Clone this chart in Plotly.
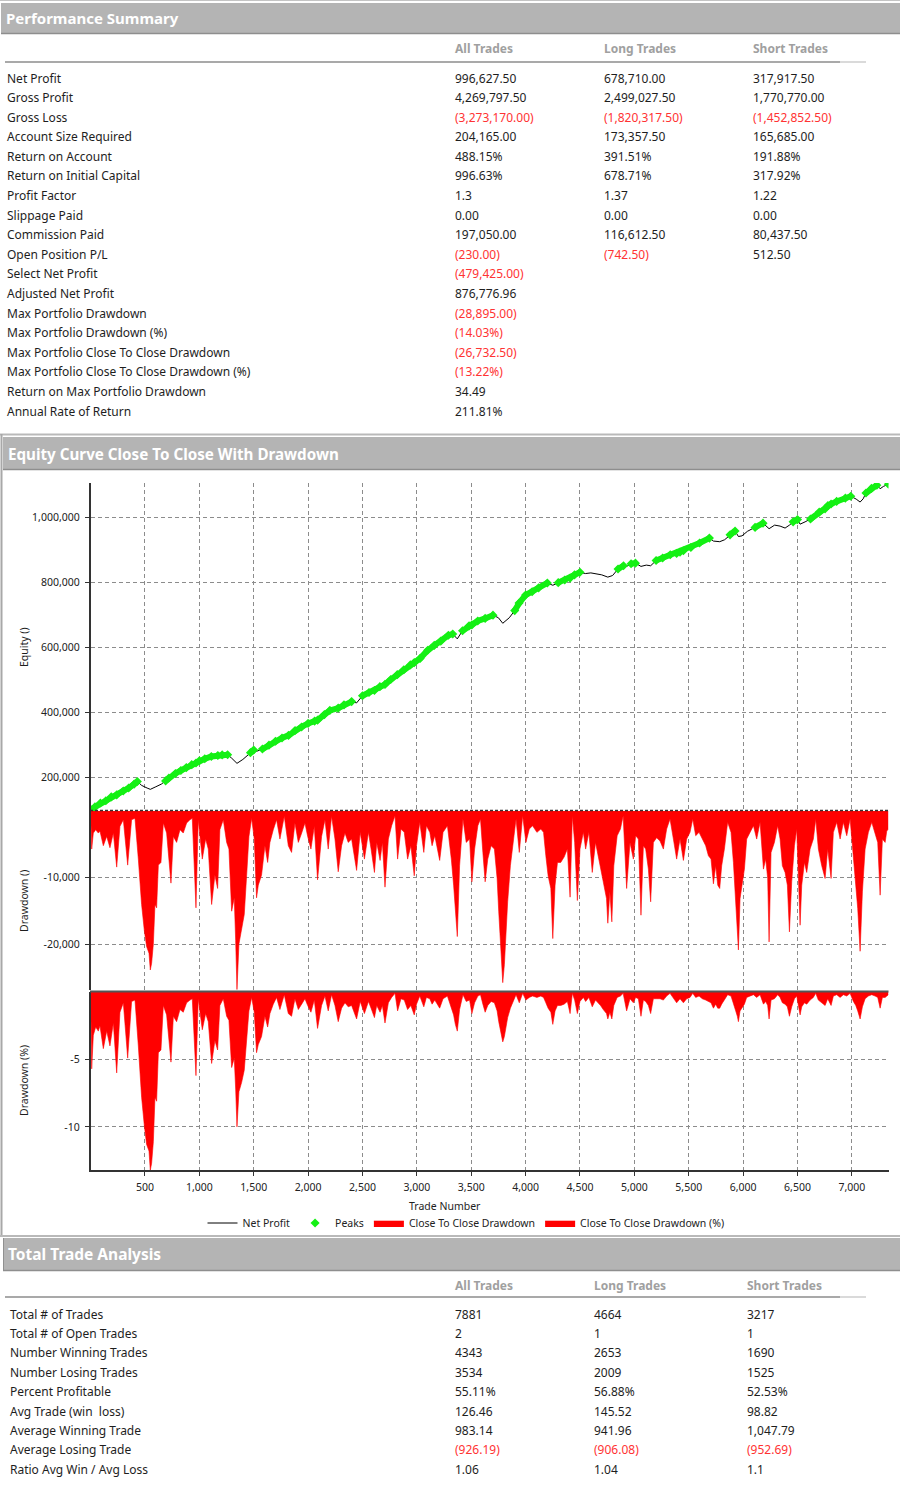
import numpy as np
import plotly.graph_objects as go

# ------------------------------------------------------------------ data
perf_labels = ["Net Profit", "Gross Profit", "Gross Loss", "Account Size Required",
               "Return on Account", "Return on Initial Capital", "Profit Factor",
               "Slippage Paid", "Commission Paid", "Open Position P/L",
               "Select Net Profit", "Adjusted Net Profit", "Max Portfolio Drawdown",
               "Max Portfolio Drawdown (%)", "Max Portfolio Close To Close Drawdown",
               "Max Portfolio Close To Close Drawdown (%)",
               "Return on Max Portfolio Drawdown", "Annual Rate of Return"]
perf_all = ["996,627.50", "4,269,797.50", "(3,273,170.00)", "204,165.00", "488.15%",
            "996.63%", "1.3", "0.00", "197,050.00", "(230.00)", "(479,425.00)",
            "876,776.96", "(28,895.00)", "(14.03%)", "(26,732.50)", "(13.22%)",
            "34.49", "211.81%"]
perf_long = ["678,710.00", "2,499,027.50", "(1,820,317.50)", "173,357.50", "391.51%",
             "678.71%", "1.37", "0.00", "116,612.50", "(742.50)", "", "", "", "", "",
             "", "", ""]
perf_short = ["317,917.50", "1,770,770.00", "(1,452,852.50)", "165,685.00", "191.88%",
              "317.92%", "1.22", "0.00", "80,437.50", "512.50", "", "", "", "", "",
              "", "", ""]
col_headers = ["All Trades", "Long Trades", "Short Trades"]

trade_labels = ["Total # of Trades", "Total # of Open Trades", "Number Winning Trades",
                "Number Losing Trades", "Percent Profitable", "Avg Trade (win\u00a0 loss)",
                "Average Winning Trade", "Average Losing Trade", "Ratio Avg Win / Avg Loss"]
trade_all = ["7881", "2", "4343", "3534", "55.11%", "126.46", "983.14", "(926.19)", "1.06"]
trade_long = ["4664", "1", "2653", "2009", "56.88%", "145.52", "941.96", "(906.08)", "1.04"]
trade_short = ["3217", "1", "1690", "1525", "52.53%", "98.82", "1,047.79", "(952.69)", "1.1"]

section_titles = ["Performance Summary", "Equity Curve Close To Close With Drawdown",
                  "Total Trade Analysis"]

# equity curve (trade number, equity in thousands)
eq_trades = [0, 40, 90, 140, 190, 240, 300, 350, 400, 430, 470, 520, 549, 600, 650, 690,
             720, 780, 830, 880, 930, 969, 1000, 1050, 1110, 1170, 1210, 1260, 1297,
             1346, 1400, 1440, 1470, 1500, 1526, 1580, 1640, 1700, 1760, 1820, 1880, 1940,
             2000, 2060, 2087, 2150, 2200, 2277, 2330, 2400, 2446, 2500, 2560, 2610, 2660,
             2707, 2760, 2820, 2880, 2940, 2976, 3030, 3100, 3160, 3220, 3290, 3330, 3372,
             3420, 3480, 3506, 3560, 3628, 3700, 3750, 3790, 3850, 3900, 3940, 4000, 4060,
             4120, 4200, 4250, 4300, 4360, 4409, 4450, 4500, 4550, 4600, 4650, 4700, 4756,
             4800, 4850, 4900, 4929, 4970, 5010, 5061, 5110, 5150, 5200, 5260, 5330, 5389,
             5420, 5451, 5520, 5600, 5690, 5727, 5785, 5830, 5880, 5926, 5957, 5990, 6040,
             6110, 6183, 6239, 6290, 6340, 6386, 6426, 6460, 6500, 6524, 6570, 6620, 6700,
             6754, 6780, 6809, 6860, 6940, 6990, 7040, 7076, 7104, 7130, 7180, 7230, 7260,
             7290, 7336]
eq_k = [100, 108, 120, 127, 139, 145, 157, 166, 178, 186, 174, 166, 162, 170, 178, 188,
        197, 211, 220, 229, 238, 243, 250, 256, 263, 266, 268, 268.5, 258,
        242, 254, 266, 275, 283, 279, 286, 298, 310, 320, 328, 343, 354,
        365, 372, 375, 392, 405, 412, 422, 432, 428, 450, 460, 466, 478,
        485, 500, 515, 530, 545, 552, 565, 590, 605, 618, 636, 640, 625,
        650, 665, 668, 680, 688, 698, 690, 673, 690, 712, 735, 760, 770,
        782, 797, 790, 798, 806, 812, 822, 830, 826, 828, 824, 822, 815,
        820, 840, 850, 848, 856, 858, 848, 852, 850, 866, 874, 884, 888,
        892, 896, 906, 920, 935, 926, 924, 930, 945, 957, 940, 942, 956,
        968, 981, 964, 975, 972, 966, 975, 985, 992, 978, 985, 994, 1015,
        1025, 1035, 1040, 1048, 1058, 1064, 1055, 1046, 1056, 1074, 1088, 1098, 1087,
        1094, 1101]

# close-to-close drawdown (trade number, drawdown in thousands, drawdown %)
dd_trades = [0, 10, 25, 47, 71, 86, 117, 148, 178, 209, 240, 270, 301, 341, 377, 408, 439,
             469, 494, 515, 537, 549, 561, 577, 592, 607, 623, 647, 669, 699, 739, 761, 791,
             822, 852, 883, 914, 935, 969, 990, 1027, 1058, 1082, 1113, 1143, 1168, 1189,
             1220, 1251, 1272, 1297, 1321, 1334, 1346, 1364, 1389, 1413, 1435, 1456, 1481,
             1505, 1526, 1542, 1572, 1603, 1628, 1649, 1680, 1710, 1741, 1781, 1818, 1848,
             1879, 1910, 1941, 1971, 1996, 2026, 2057, 2087, 2124, 2155, 2185, 2216, 2247,
             2277, 2308, 2339, 2369, 2400, 2446,
             2479, 2518, 2555, 2579, 2610, 2631, 2662, 2683, 2707, 2738, 2768, 2799, 2823,
             2854, 2884, 2915, 2945, 2976, 2997, 3027, 3064, 3088, 3119, 3140, 3165, 3210,
             3241, 3281, 3317, 3338, 3354, 3372, 3393, 3424, 3454, 3485, 3506, 3531, 3561,
             3585, 3607, 3628, 3652, 3683, 3713, 3738, 3753, 3774, 3790, 3805, 3820, 3835,
             3860, 3890, 3912, 3942, 3973, 4003, 4034, 4064, 4104, 4140, 4165, 4186, 4207,
             4232, 4250, 4271, 4293, 4323, 4354, 4384, 4409, 4430, 4451, 4476, 4500, 4531,
             4552, 4582, 4613, 4643, 4689, 4714, 4744, 4756, 4775, 4793, 4811, 4842, 4872,
             4897,
             4929, 4960, 4991, 5012, 5037, 5061, 5083, 5104, 5129, 5150, 5175, 5205, 5236,
             5267, 5297, 5328, 5359, 5389, 5420, 5451, 5481, 5512, 5537, 5564, 5595, 5625,
             5656, 5681, 5705, 5727, 5748, 5767, 5785, 5803, 5828, 5858, 5889, 5911, 5932,
             5947, 5957, 5972, 5987, 6012, 6033, 6064, 6095, 6125, 6156, 6187, 6208, 6226,
             6239, 6257, 6288, 6318, 6340, 6361, 6386, 6407, 6426, 6447, 6472, 6493, 6508,
             6524, 6539, 6564, 6585, 6616, 6646, 6668, 6692, 6723, 6754, 6778, 6809, 6830,
             6861, 6892, 6922, 6953, 6984, 7014, 7036, 7054, 7076, 7097, 7122, 7152, 7183,
             7214, 7238, 7260, 7281, 7306, 7321, 7336]
dd_k = [0, -5.7, -3.3, -2.8, -3.3, -3.0, -5.2, -3.8, -5.5, -3.3, -8.4, -2.3, -1.3, -8.1,
        -1.3, -1.1, -7.2, -14.0, -17.9, -20.3, -21.3, -23.8, -22.8, -19.9, -14.0, -14.5,
        -8.1, -7.7, -1.8, -3.3, -10.8, -3.8, -4.7, -2.8, -3.3, -1.8, -1.3, -1.1, -14.5,
        -1.3, -7.2, -4.2, -5.7, -14.0, -9.6, -11.6, -2.8, -1.3, -4.7, -5.7, -15.0, -13.0,
        -19.4, -26.73, -19.9, -17.9, -15.5, -9.6, -3.8, -1.1, -4.2, -13.0, -11.1, -9.6,
        -5.2, -7.7, -4.7, -2.8, -1.3, -4.2, -0.8, -5.2, -6.2, -1.8, -4.7, -3.3, -1.8, -3.8,
        -5.7, -2.3, -10.3, -3.8, -1.3, -5.7, -0.8, -4.2, -9.1, -5.2, -3.3, -4.7, -4.2, -8.9,
        -3.2, -7.2, -3.2, -5.7, -9.2, -4.7, -7.4, -4.7, -11.4, -4.2, -2.2, -0.7, -7.2,
        -2.7, -3.2, -7.2, -5.2, -9.7, -5.2, -1.7, -6.2, -2.2, -3.2, -5.2, -3.7, -7.4,
        -3.2, -2.2, -7.2, -11.1, -15.6, -18.8, -8.2, -1.2, -4.7, -4.2, -10.6, -5.7, -2.2,
        -1.2, -6.2, -10.6, -7.2, -5.2, -5.7, -10.1, -15.1, -21.0, -25.7, -23.0, -18.1, -13.6,
        -8.2, -4.2, -1.2, -6.2, -0.7, -4.7, -2.7, -2.2, -3.2, -2.7, -3.2, -6.7, -9.7,
        -11.6, -19.1, -11.1, -7.7, -7.7, -6.9, -5.7, -12.9, -0.7, -4.7, -13.4, -5.7, -3.2,
        -5.7, -3.2, -9.2, -4.7, -8.2, -10.6, -13.1, -16.8, -12.1, -16.6, -8.2, -3.7, -2.7,
        -0.7,
        -11.6, -4.7, -7.2, -3.7, -4.2, -15.6, -5.2, -5.7, -8.7, -13.6, -4.7, -4.0, -4.5,
        -5.7, -2.7, -1.2, -4.2, -7.2, -4.2, -7.4, -4.2, -3.2, -1.2, -3.7, -3.2, -4.2,
        -5.2, -6.7, -7.2, -10.9, -8.2, -11.1, -11.6, -8.2, -5.7, -1.7, -3.2, -7.7, -13.1,
        -17.1, -20.8, -13.1, -11.6, -8.7, -4.2, -3.2, -2.2, -4.2, -1.7, -8.7, -7.2, -10.1,
        -19.6, -6.2, -4.7, -2.2, -4.2, -8.2, -9.2, -11.1, -18.1, -10.6, -5.2, -2.7, -10.1,
        -17.1, -11.1, -7.7, -9.2, -5.7, -4.2, -1.2, -5.7, -8.2, -10.1, -5.7, -10.1, -3.2,
        -1.7, -4.2, -1.7, -3.7, -1.2, -7.2, -10.6, -14.6, -21.0, -12.1, -5.7, -3.2, -1.7,
        -3.2, -4.7, -12.6, -4.2, -4.7, -3.0, -2.7]
dd_pct = [0, -5.7, -3.2, -2.6, -2.9, -2.5, -4.2, -2.9, -4.0, -2.3, -6.0, -1.5, -0.8, -4.9,
          -0.7, -0.6, -4.0, -7.8, -9.9, -11.3, -11.8, -13.22, -12.7, -11.1, -7.8, -8.1,
          -4.5, -4.3, -1.0, -1.7, -5.2, -1.8, -2.2, -1.3, -1.5, -0.8, -0.6, -0.5, -6.2,
          -0.5, -2.8, -1.6, -2.2, -5.3, -3.6, -4.3, -1.0, -0.5, -1.8, -2.1, -5.6, -4.9,
          -7.2, -10.0, -7.4, -6.7, -5.8, -3.6, -1.4, -0.4, -1.5, -4.5, -3.9, -3.3,
          -1.8, -2.6, -1.6, -0.9, -0.4, -1.3, -0.2, -1.6, -1.8, -0.5, -1.3, -0.9, -0.5, -1.0,
          -1.5, -0.6, -2.7, -1.0, -0.3, -1.4, -0.2, -1.0, -2.2, -1.2, -0.8, -1.1, -1.0, -2.0,
          -0.7, -1.6, -0.7, -1.2, -1.9, -1.0, -1.5, -1.0, -2.3, -0.8, -0.4, -0.1, -1.4,
          -0.5, -0.6, -1.3, -1.0, -1.7, -0.9, -0.3, -1.1, -0.4, -0.5, -0.9, -0.6, -1.2,
          -0.5, -0.3, -1.1, -1.7, -2.4, -2.9, -1.3, -0.2, -0.7, -0.6, -1.6, -0.8, -0.3,
          -0.2, -0.9, -1.5, -1.0, -0.7, -0.8, -1.4, -2.2, -3.0, -3.7, -3.3, -2.6, -1.9,
          -1.2, -0.6, -0.2, -0.8, -0.1, -0.6, -0.4, -0.3, -0.4, -0.3, -0.4, -0.8, -1.2,
          -1.5, -2.4, -1.4, -1.0, -1.0, -0.9, -0.7, -1.6, -0.1, -0.6, -1.6, -0.7, -0.4,
          -0.7, -0.4, -1.1, -0.6, -1.0, -1.3, -1.6, -2.0, -1.5, -2.0, -1.0, -0.4, -0.3,
          -0.1,
          -1.4, -0.5, -0.8, -0.4, -0.5, -1.8, -0.6, -0.7, -1.0, -1.6, -0.5, -0.5, -0.5,
          -0.6, -0.3, -0.1, -0.5, -0.8, -0.5, -0.8, -0.5, -0.4, -0.1, -0.4, -0.3, -0.5,
          -0.6, -0.7, -0.8, -1.2, -0.9, -1.2, -1.2, -0.9, -0.6, -0.2, -0.3, -0.8, -1.4,
          -1.8, -2.2, -1.4, -1.2, -0.9, -0.4, -0.3, -0.2, -0.4, -0.2, -0.9, -0.7, -1.0,
          -2.0, -0.6, -0.5, -0.2, -0.4, -0.8, -0.9, -1.1, -1.8, -1.1, -0.5, -0.3, -1.0,
          -1.7, -1.1, -0.8, -0.9, -0.6, -0.4, -0.1, -0.6, -0.8, -1.0, -0.5, -1.0, -0.3,
          -0.2, -0.4, -0.2, -0.3, -0.1, -0.7, -1.0, -1.4, -2.0, -1.1, -0.5, -0.3, -0.2,
          -0.3, -0.4, -1.2, -0.4, -0.4, -0.3, -0.2]

x_tick_vals = [500, 1000, 1500, 2000, 2500, 3000, 3500, 4000, 4500, 5000, 5500, 6000, 6500, 7000]
x_tick_text = ["500", "1,000", "1,500", "2,000", "2,500", "3,000", "3,500", "4,000",
               "4,500", "5,000", "5,500", "6,000", "6,500", "7,000"]
eq_tick_vals = [200000, 400000, 600000, 800000, 1000000]
eq_tick_text = ["200,000", "400,000", "600,000", "800,000", "1,000,000"]
dd_tick_vals = [-10000, -20000]
dd_tick_text = ["-10,000", "-20,000"]
ddp_tick_vals = [-5, -10]
ddp_tick_text = ["-5", "-10"]

# ------------------------------------------------------------------ helpers
W, H = 900, 1497
FONT = "Noto Sans"
GREEN = "#14f014"
RED = "#ff0000"
NEG = "#ff3333"
TXT = "#1e1e1e"
HDR = "#a0a0a0"
BAND = "#b4b4b4"


def fx(p):
    return p / W


def fy(p):
    return 1 - p / H


eq_vals = np.array(eq_k) * 1000.0
run_max = np.maximum.accumulate(eq_vals)
is_peak = eq_vals >= run_max
peak_line = [float(v) if p else None for v, p in zip(eq_vals, is_peak)]
peak_x = [t for t, p in zip(eq_trades, is_peak) if p]
peak_y = [float(v) for v, p in zip(eq_vals, is_peak) if p]
dd_vals = [v * 1000.0 for v in dd_k]

fig = go.Figure()
fig.add_trace(go.Scatter(x=eq_trades, y=eq_vals, mode="lines", name="Net Profit",
                         line=dict(color="black", width=1), xaxis="x", yaxis="y"))
fig.add_trace(go.Scatter(x=eq_trades, y=peak_line, mode="lines", connectgaps=False,
                         line=dict(color=GREEN, width=6), showlegend=False,
                         legendgroup="peaks", xaxis="x", yaxis="y"))
fig.add_trace(go.Scatter(x=peak_x, y=peak_y, mode="markers", name="Peaks",
                         marker=dict(symbol="diamond", size=7, color=GREEN),
                         legendgroup="peaks", xaxis="x", yaxis="y"))
fig.add_trace(go.Scatter(x=dd_trades, y=dd_vals, mode="lines", fill="tozeroy",
                         fillcolor=RED, line=dict(color=RED, width=0.6),
                         name="Close To Close Drawdown", xaxis="x", yaxis="y2"))
fig.add_trace(go.Scatter(x=dd_trades, y=dd_pct, mode="lines", fill="tozeroy",
                         fillcolor=RED, line=dict(color=RED, width=0.6),
                         name="Close To Close Drawdown (%)", xaxis="x", yaxis="y3"))

ann = []


def text(x, y, s, size=12, color=TXT, bold=False, xanchor="left", angle=0):
    ann.append(dict(xref="paper", yref="paper", x=fx(x), y=fy(y),
                    text=f"<b>{s}</b>" if bold else s,
                    showarrow=False, xanchor=xanchor, yanchor="middle", textangle=angle,
                    borderpad=0, font=dict(family=FONT, size=size, color=color)))


# section titles
text(5, 18, section_titles[0], size=15, color="white", bold=True)
text(7, 454, section_titles[1], size=15.2, color="white", bold=True)
text(7, 1254, section_titles[2], size=15.5, color="white", bold=True)

# performance summary table
cols1 = [454, 603, 752]
for c, h in zip(cols1, col_headers):
    text(c, 49, h, size=12, color=HDR, bold=True)
for i, lab in enumerate(perf_labels):
    y = 78 + i * 19.59
    text(6, y, lab)
    for c, v in zip(cols1, (perf_all[i], perf_long[i], perf_short[i])):
        if v:
            text(c, y, v, color=NEG if v.startswith("(") else TXT)

# trade analysis table
cols3 = [454, 593, 746]
for c, h in zip(cols3, col_headers):
    text(c, 1285, h, size=12, color=HDR, bold=True)
for i, lab in enumerate(trade_labels):
    y = 1314 + i * 19.4
    text(9, y, lab)
    for c, v in zip(cols3, (trade_all[i], trade_long[i], trade_short[i])):
        text(c, y, v, color=NEG if v.startswith("(") else TXT)

# axis titles
text(24, 647, "Equity ()", size=10.5, angle=-90, xanchor="center")
text(24, 901, "Drawdown ()", size=10.5, angle=-90, xanchor="center")
text(24, 1081, "Drawdown (%)", size=10.5, angle=-90, xanchor="center")
text(445, 1206, "Trade Number", size=10.5, xanchor="center")

shapes = []


def rect(x0, y0, x1, y1, color):
    shapes.append(dict(type="rect", xref="paper", yref="paper", x0=fx(x0), x1=fx(x1),
                       y0=fy(y1), y1=fy(y0), fillcolor=color, line=dict(width=0)))


def line(x0, y0, x1, y1, color, width=1, dash="solid"):
    shapes.append(dict(type="line", xref="paper", yref="paper", x0=fx(x0), x1=fx(x1),
                       y0=fy(y0), y1=fy(y1), line=dict(color=color, width=width, dash=dash)))


# frames and header bands
line(0, 0.5, 900, 0.5, "#c4c4c4", 1)
rect(1, 3, 900, 33, BAND)
line(1, 33.5, 900, 33.5, "#8e8e8e", 1.5)
line(5, 62, 840, 62, "#a9a9a9", 2)
line(840, 62, 866, 62, "#dadada", 2)
line(0, 434.5, 900, 434.5, "#b9b9b9", 2)
line(1.5, 434, 1.5, 1236, "#a8a8a8", 2)
rect(3, 437, 900, 469, BAND)
line(3, 469.5, 900, 469.5, "#8e8e8e", 1.5)
line(0, 1236, 900, 1236, "#b9b9b9", 2)
rect(3, 1238, 900, 1270, BAND)
line(3.5, 1238, 3.5, 1270, "#909090", 1)
line(3, 1270.5, 900, 1270.5, "#8e8e8e", 1.5)
line(5, 1297, 840, 1297, "#a9a9a9", 2)
line(840, 1297, 866, 1297, "#dadada", 2)
# panel separators
line(90, 810.5, 888.5, 810.5, "#333333", 1.5, "3px,2px")
line(90, 991.5, 888.5, 991.5, "#555555", 2)

axis_font = dict(family=FONT, size=10.5, color="#222222")
grid = dict(showgrid=True, gridcolor="#8c8c8c", griddash="4px,3px", gridwidth=1,
            zeroline=False, showline=True, linecolor="#333333", linewidth=1.5,
            ticks="outside", ticklen=4, tickcolor="#333333", tickfont=axis_font,
            ticklabelstandoff=3)

fig.update_layout(
    width=W, height=H, margin=dict(l=0, r=0, t=0, b=0),
    paper_bgcolor="white", plot_bgcolor="white",
    font=dict(family=FONT, color=TXT),
    xaxis=dict(domain=[fx(90.6), fx(888.5)], range=[0, 7337], anchor="y3",
               tickvals=x_tick_vals, ticktext=x_tick_text, **grid),
    yaxis=dict(domain=[fy(811), fy(483)], range=[95400, 1104600], anchor="x",
               tickvals=eq_tick_vals, ticktext=eq_tick_text, **grid),
    yaxis2=dict(domain=[fy(990), fy(811)], range=[-26800, 0], anchor="x",
                tickvals=dd_tick_vals, ticktext=dd_tick_text, **grid),
    yaxis3=dict(domain=[fy(1170), fy(992)], range=[-13.2, 0], anchor="x",
                tickvals=ddp_tick_vals, ticktext=ddp_tick_text, **grid),
    legend=dict(orientation="h", x=fx(466), xanchor="center", y=fy(1223), yanchor="middle",
                font=dict(family=FONT, size=10.5, color="#222222"),
                bgcolor="rgba(0,0,0,0)", itemwidth=30, traceorder="normal"),
    annotations=ann, shapes=shapes, showlegend=True,
)

fig.write_html("out.html")
